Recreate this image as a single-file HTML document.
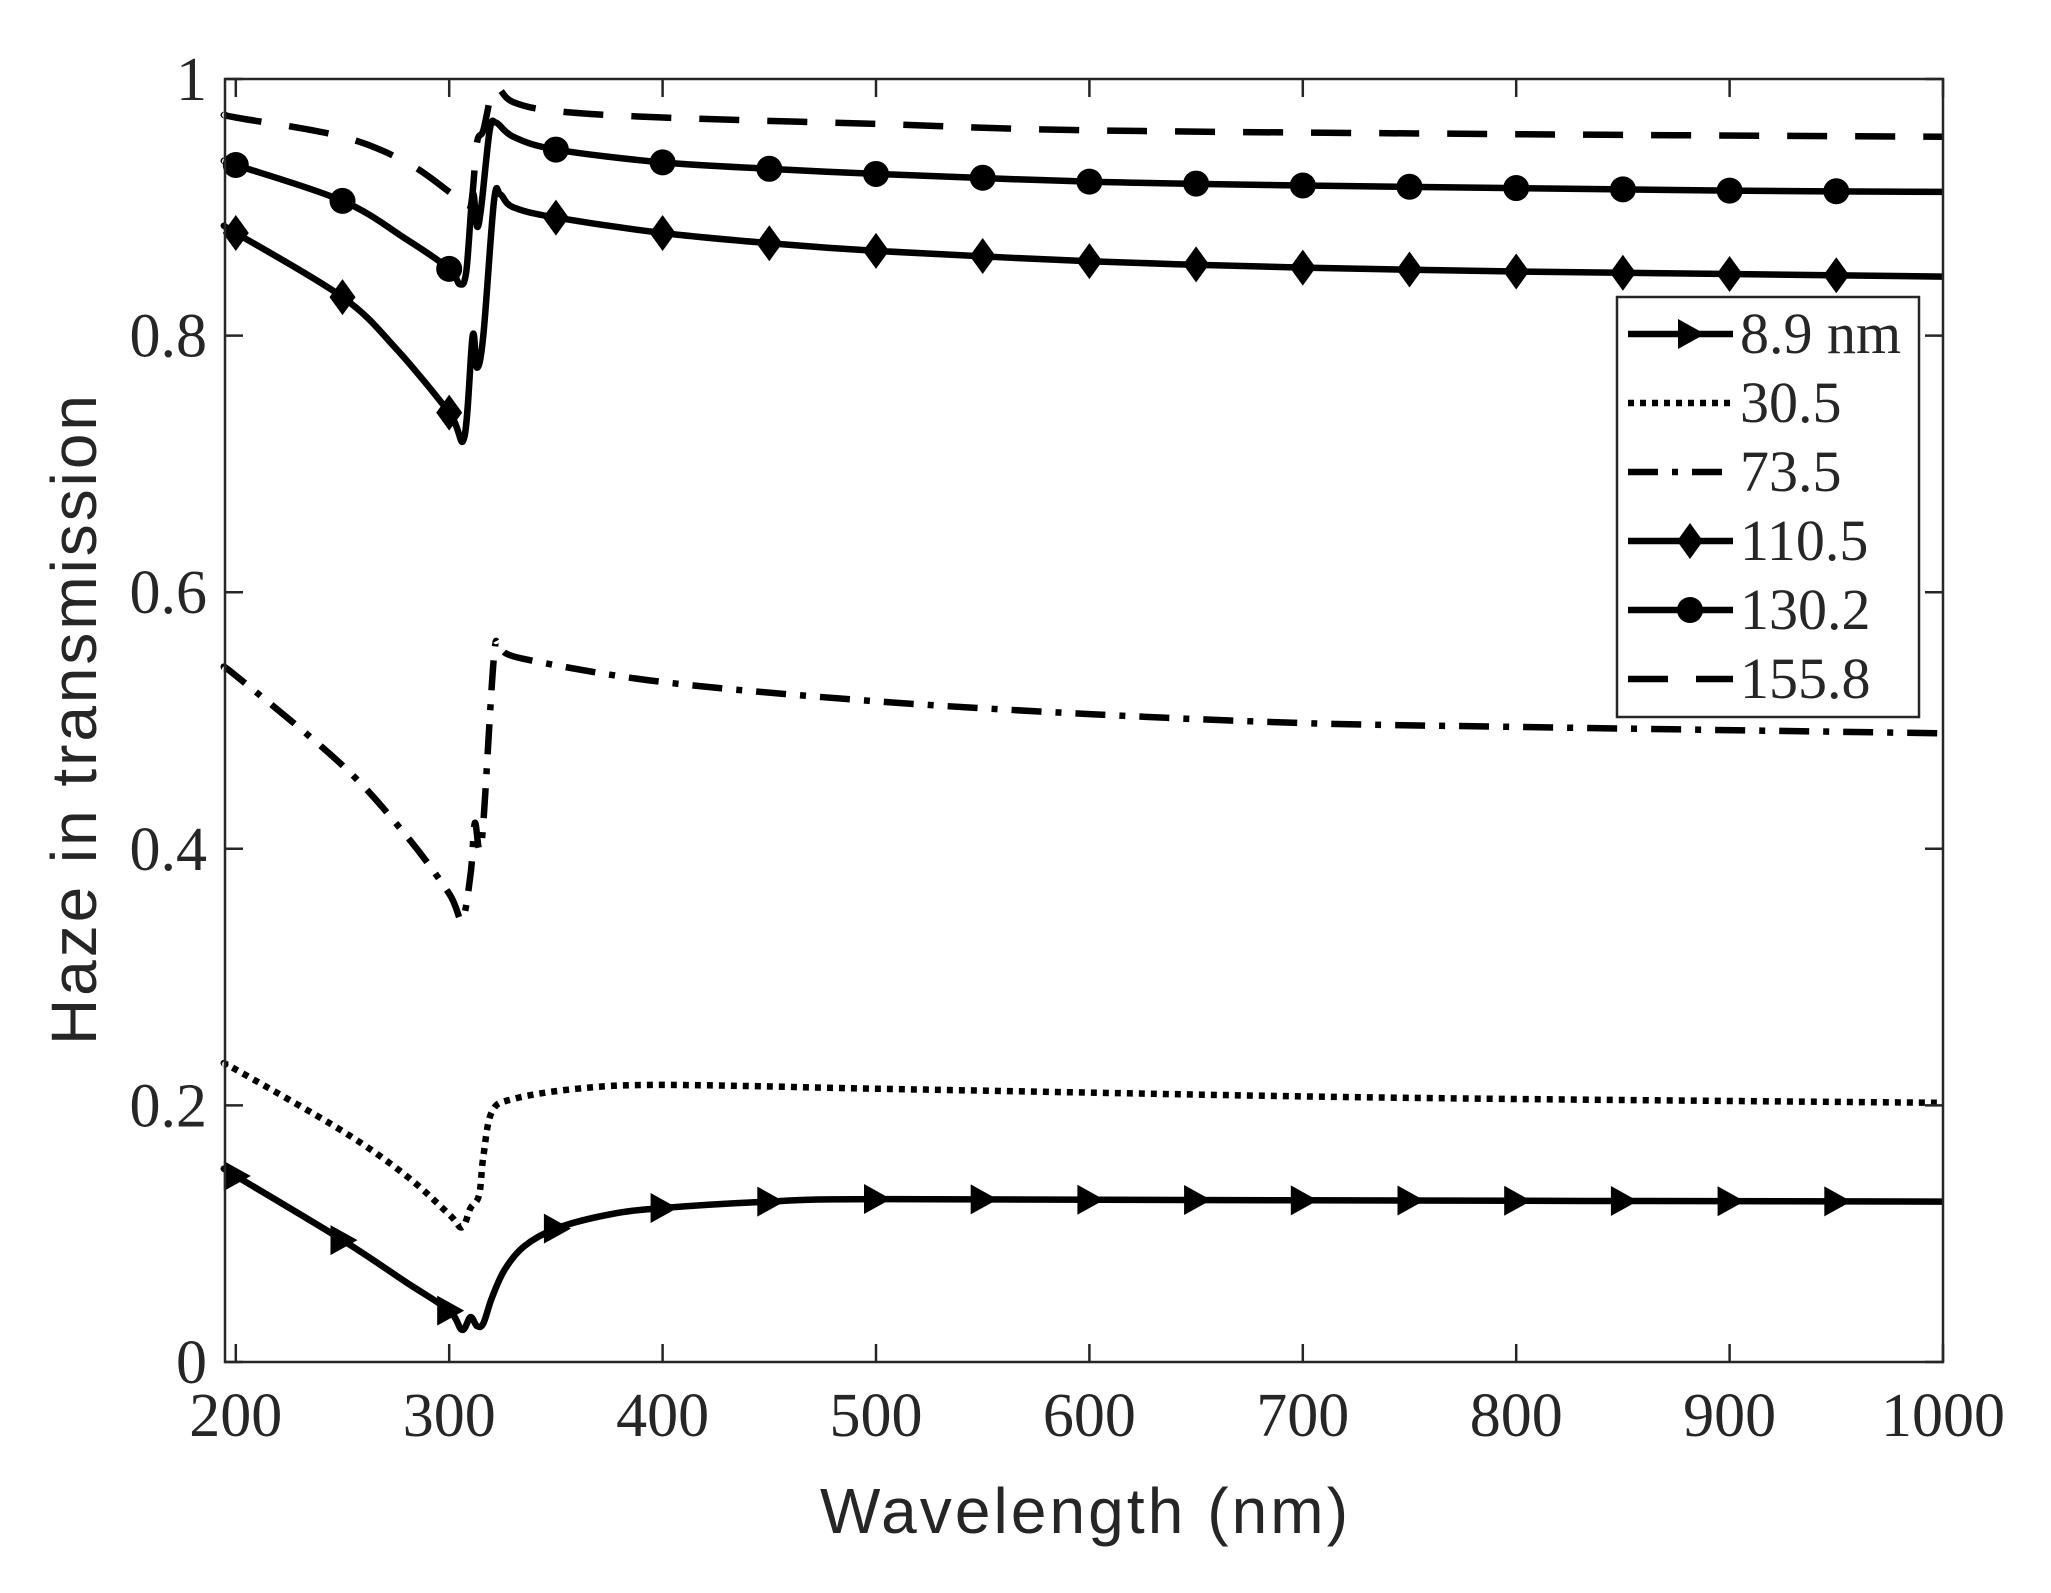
<!DOCTYPE html>
<html><head><meta charset="utf-8"><style>body{margin:0;background:#fff}svg{display:block}</style></head>
<body>
<svg id="s" width="2051" height="1593" xmlns="http://www.w3.org/2000/svg">
<rect width="2051" height="1593" fill="#fff"/>
<g id="plot"></g>
<rect x="225" y="79" width="1718" height="1283" fill="none" stroke="#262626" stroke-width="2.5"/>
<g id="ticks" stroke="#262626" stroke-width="2.5"></g>
<g font-family="Liberation Serif, serif" font-size="62" fill="#262626" id="tl"></g>
<text x="1084" y="1533" font-family="Liberation Sans, sans-serif" font-size="64" fill="#262626" text-anchor="middle" textLength="528">Wavelength (nm)</text>
<text transform="translate(96,720) rotate(-90)" font-family="Liberation Sans, sans-serif" font-size="64" fill="#262626" text-anchor="middle" textLength="650">Haze in transmission</text>
<g id="leg"></g>
</svg>
<script>
const NS="http://www.w3.org/2000/svg";
const X=v=>1943-(1000-v)*2.134, Y=v=>1362-1283*v;
function el(p,t,a,txt){const e=document.createElementNS(NS,t);for(const k in a)e.setAttribute(k,a[k]);if(txt!==undefined)e.textContent=txt;p.appendChild(e);return e;}
const plot=document.getElementById('plot'),ticks=document.getElementById('ticks'),tl=document.getElementById('tl'),leg=document.getElementById('leg');
for(let v=200;v<=1000;v+=100){const x=X(v);el(ticks,'line',{x1:x,y1:1362,x2:x,y2:1344});el(ticks,'line',{x1:x,y1:79,x2:x,y2:97});el(tl,'text',{x:x,y:1436,'text-anchor':'middle'},String(v));}
[[0,'0'],[0.2,'0.2'],[0.4,'0.4'],[0.6,'0.6'],[0.8,'0.8'],[1,'1']].forEach(([v,s])=>{const y=Y(v);el(ticks,'line',{x1:225,y1:y,x2:243,y2:y});el(ticks,'line',{x1:1943,y1:y,x2:1925,y2:y});el(tl,'text',{x:207,y:y+21,'text-anchor':'end'},s);});
const D={
dash:[[195,0.972],[200,0.97],[250,0.955],[280,0.935],[300,0.912],[305,0.905],[310,0.9],[313,0.95],[316,0.96],[320,0.99],[323,0.993],[330,0.982],[350,0.975],[400,0.97],[500,0.965],[600,0.96],[800,0.957],[1000,0.955]],
circ:[[195,0.936],[200,0.933],[250,0.905],[280,0.875],[300,0.852],[305,0.84],[308,0.85],[311,0.91],[313,0.885],[315,0.9],[319,0.96],[322,0.966],[330,0.955],[350,0.945],[400,0.935],[450,0.93],[500,0.926],[600,0.92],[700,0.917],[800,0.915],[900,0.913],[1000,0.912]],
diam:[[195,0.885],[200,0.88],[250,0.83],[275,0.79],[300,0.74],[307,0.72],[311,0.8],[313,0.775],[316,0.8],[321,0.905],[324,0.91],[330,0.9],[350,0.892],[400,0.88],[450,0.872],[500,0.866],[600,0.858],[700,0.853],[800,0.85],[900,0.848],[1000,0.846]],
dd:[[195,0.54],[200,0.535],[250,0.465],[280,0.41],[300,0.365],[306,0.345],[310,0.38],[312,0.42],[314,0.4],[316,0.42],[321,0.55],[324,0.556],[335,0.548],[400,0.53],[500,0.515],[600,0.505],[700,0.498],[800,0.495],[1000,0.49]],
dot:[[195,0.232],[200,0.228],[250,0.18],[280,0.145],[300,0.115],[306,0.105],[310,0.12],[314,0.13],[316,0.16],[320,0.195],[330,0.205],[360,0.213],[400,0.216],[500,0.213],[600,0.21],[700,0.207],[800,0.205],[1000,0.202]],
tri:[[195,0.15],[200,0.145],[250,0.095],[280,0.062],[300,0.04],[306,0.025],[310,0.035],[313,0.028],[316,0.03],[320,0.05],[326,0.072],[335,0.09],[350,0.104],[375,0.115],[400,0.12],[450,0.125],[500,0.127],[700,0.126],[1000,0.125]]};
function interp(d,v){for(let i=0;i<d.length-1;i++){if(v>=d[i][0]&&v<=d[i+1][0]){const t=(v-d[i][0])/(d[i+1][0]-d[i][0]);return d[i][1]+t*(d[i+1][1]-d[i][1]);}}return d[d.length-1][1];}
function path(d){const p=d.map(q=>[X(q[0]),Y(q[1])]);let s='M'+p[0][0].toFixed(1)+','+p[0][1].toFixed(1);
 for(let i=0;i<p.length-1;i++){const p0=p[Math.max(0,i-1)],p1=p[i],p2=p[i+1],p3=p[Math.min(p.length-1,i+2)];
 const c1=[p1[0]+(p2[0]-p0[0])/6,p1[1]+(p2[1]-p0[1])/6],c2=[p2[0]-(p3[0]-p1[0])/6,p2[1]-(p3[1]-p1[1])/6];
 s+=` C${c1[0].toFixed(1)},${c1[1].toFixed(1)} ${c2[0].toFixed(1)},${c2[1].toFixed(1)} ${p2[0].toFixed(1)},${p2[1].toFixed(1)}`;}return s;}
const styles={dash:'40,28',dd:'30,14,6,14',dot:'6,6'};
function marker(g,type,x,y){
 if(type==='circ')el(g,'circle',{cx:x,cy:y,r:13,fill:'#000'});
 else if(type==='diam')el(g,'polygon',{points:`${x},${y-18} ${x+13},${y} ${x},${y+18} ${x-13},${y}`,fill:'#000'});
 else if(type==='tri')el(g,'polygon',{points:`${x-12},${y-15} ${x+15},${y} ${x-12},${y+15}`,fill:'#000'});
}
for(const k in D){
 const a={d:path(D[k]),fill:'none',stroke:'#000','stroke-width':6.5,'stroke-linejoin':'round'};
 if(styles[k])a['stroke-dasharray']=styles[k];
 el(plot,'path',a);
 if(['circ','diam','tri'].includes(k)){for(let v=200;v<=950;v+=50)marker(plot,k,X(v),Y(interp(D[k],v)));}
}
el(leg,'rect',{x:1617,y:297,width:302,height:420,fill:'#fff',stroke:'#262626','stroke-width':2.5});
const L=[['tri','8.9 nm'],['dot','30.5'],['dd','73.5'],['diam','110.5'],['circ','130.2'],['dash','155.8']];
L.forEach(([k,s],i)=>{const y=334+i*69;const a={x1:1628,y1:y,x2:1733,y2:y,stroke:'#000','stroke-width':6.5};if(styles[k])a['stroke-dasharray']=styles[k];el(leg,'line',a);if(['circ','diam','tri'].includes(k))marker(leg,k,1690,y);
 el(leg,'text',{x:1740,y:y+19,'font-family':'Liberation Serif, serif','font-size':58,fill:'#262626'},s);});
</script>
</body></html>
